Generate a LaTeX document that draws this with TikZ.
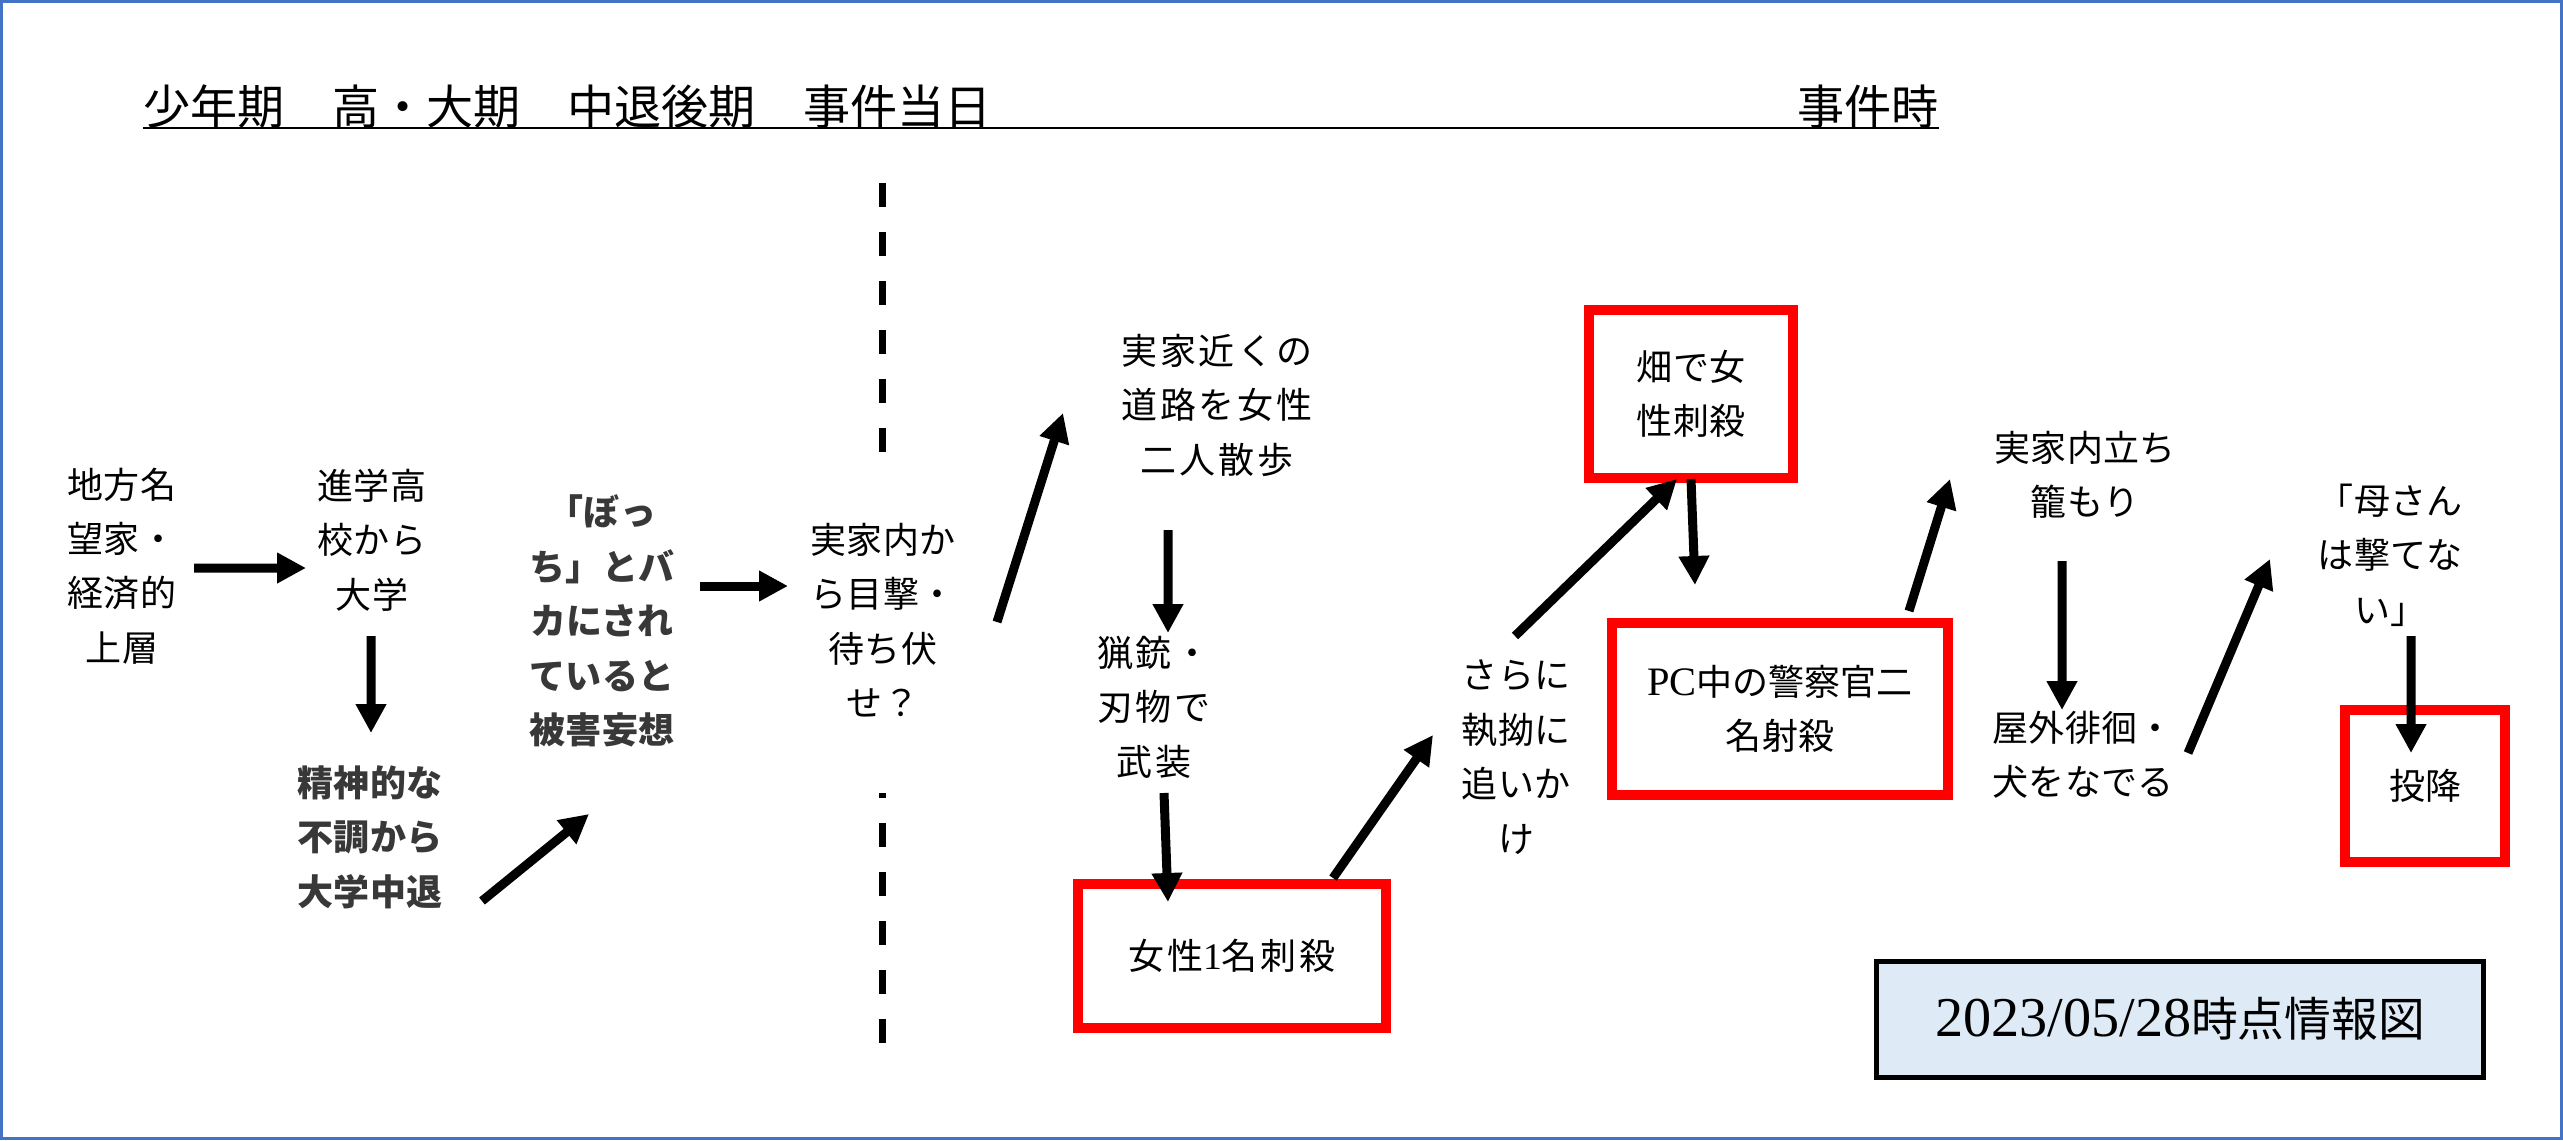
\documentclass[tikz,border=0pt]{standalone}
\usepackage{fontspec}
\setmainfont{Noto Sans CJK JP}
\newfontfamily\cjkwide[LetterSpace=8]{Noto Sans CJK JP}
\newfontfamily\latinserif{Liberation Serif}
\usetikzlibrary{arrows.meta}
\definecolor{frameblue}{RGB}{68,114,196}
\definecolor{boxred}{RGB}{255,0,0}
\definecolor{infofill}{RGB}{222,234,246}
\tikzset{
  txt/.style={align=center, inner sep=0pt, font=\fontsize{10.25}{15.5}\selectfont},
  boldtxt/.style={txt, text=black!78, font=\fontsize{10.25}{15.5}\selectfont\bfseries},
  widetxt/.style={txt, font=\cjkwide\fontsize{10.25}{15.5}\selectfont},
  redbox/.style={draw=boxred, line width=0.1cm, align=center, inner sep=0pt},
  arr/.style={line width=0.09cm, -{Triangle[length=0.29cm,width=0.29cm]}},
  divider/.style={line width=0.07cm, dash pattern=on 0.24cm off 0.25cm}
}

\begin{document}
\begin{tikzpicture}
  \useasboundingbox (0,0) rectangle (25.63,-11.40);
  \draw[frameblue, line width=0.03cm] (0.015,-0.015) rectangle (25.615,-11.385);
  % time line
  \node[anchor=west, inner sep=0pt, font=\fontsize{13.4}{16}\selectfont] (hdrL) at (1.43,-1.065) {少年期　高・大期　中退後期　事件当日};
  \node[anchor=east, inner sep=0pt, font=\fontsize{13.4}{16}\selectfont] (hdrR) at (19.39,-1.065) {事件時};
  \draw[line width=0.025cm] (1.43,-1.28) -- (19.39,-1.28);
  \draw[divider] (8.82,-1.83) -- (8.82,-4.52);
  \draw[divider, dash phase=0.19cm] (8.82,-7.93) -- (8.82,-10.43);
  % nodes
  \node[txt] (n1) at (1.22,-5.66) {地方名\\望家・\\経済的\\上層};
  \node[txt] (n2) at (3.72,-5.40) {進学高\\校から\\大学};
  \node[boldtxt] (n3) at (3.70,-8.37) {精神的な\\不調から\\大学中退};
  \node[boldtxt] (n4) at (6.02,-6.21) {「ぼっ\\ち」とバ\\カにされ\\ていると\\被害妄想};
  \node[txt] (n5) at (8.83,-6.20) {実家内か\\ら目撃・\\待ち伏\\せ？};
  \node[widetxt] (n6) at (12.17,-4.05) {実家近くの\\道路を女性\\二人散歩};
  \node[widetxt] (n7) at (11.54,-7.07) {猟銃・\\刃物で\\武装};
  \node[redbox, minimum width=3.08cm, minimum height=1.44cm, font=\cjkwide\fontsize{10.25}{15.5}\selectfont] (n8) at (12.32,-9.56) {女性{\latinserif\fontsize{10.7}{15.5}\selectfont 1}名刺殺};
  \node[txt] (n9) at (15.16,-7.57) {さらに\\執拗に\\追いか\\け};
  \node[redbox, minimum width=2.04cm, minimum height=1.68cm, font=\fontsize{10.25}{15.5}\selectfont] (n10) at (16.91,-3.94) {畑で女\\性刺殺};
  \node[redbox, minimum width=3.36cm, minimum height=1.72cm, font=\fontsize{10.25}{15.5}\selectfont] (n11) at (17.80,-7.09) {{\latinserif\fontsize{11.5}{15.5}\selectfont PC}中の警察官二\\名射殺};
  \node[txt] (n12) at (20.85,-4.75) {実家内立ち\\籠もり};
  \node[txt] (n13) at (20.83,-7.55) {屋外徘徊・\\犬をなでる};
  \node[txt] (n14) at (23.90,-5.55) {「母さん\\は撃てな\\い」};
  \node[redbox, minimum width=1.60cm, minimum height=1.52cm, font=\fontsize{10.25}{15.5}\selectfont] (n15) at (24.25,-7.86) {投降};
  \node[draw, fill=infofill, line width=0.05cm, minimum width=6.07cm, minimum height=1.16cm, inner sep=0pt, font=\fontsize{13.3}{16}\selectfont] (info) at (21.80,-10.19) {{\latinserif\fontsize{16}{16}\selectfont 2023/05/28}時点情報図};
  % arrows
  \draw[arr] ([shift={(0.72,-0.02)}]n1.center) -- ([shift={(-0.66,-0.28)}]n2.center);
  \draw[arr] ([shift={(-0.01,-0.96)}]n2.center) -- ([shift={(0.01,1.04)}]n3.center);
  \draw[arr] ([shift={(1.12,-0.64)}]n3.center) -- ([shift={(-0.13,-1.93)}]n4.center);
  \draw[arr] ([shift={(0.98,0.35)}]n4.center) -- ([shift={(-0.95,0.34)}]n5.center);
  \draw[arr] ([shift={(1.14,-0.02)}]n5.center) -- ([shift={(-1.54,-0.08)}]n6.center);
  \draw[arr] ([shift={(-0.49,-1.25)}]n6.center) -- ([shift={(0.14,0.74)}]n7.center);
  \draw[arr] ([shift={(0.10,-0.86)}]n7.center) -- ([shift={(-0.64,0.54)}]n8.center);
  \draw[arr] ([shift={(1.01,0.78)}]n8.center) -- ([shift={(-0.83,0.22)}]n9.center);
  \draw[arr] ([shift={(-0.01,1.21)}]n9.center) -- ([shift={(-0.14,-0.85)}]n10.center);
  \draw[arr] ([shift={(0,-0.85)}]n10.center) -- ([shift={(-0.85,1.24)}]n11.center);
  \draw[arr] ([shift={(1.29,0.98)}]n11.center) -- ([shift={(-1.35,-0.04)}]n12.center);
  \draw[arr] ([shift={(-0.23,-0.86)}]n12.center) -- ([shift={(-0.21,0.45)}]n13.center);
  \draw[arr] ([shift={(1.05,0.02)}]n13.center) -- ([shift={(-1.20,-0.04)}]n14.center);
  \draw[arr] ([shift={(0.21,-0.81)}]n14.center) -- ([shift={(-0.14,0.33)}]n15.center);
\end{tikzpicture}
\end{document}
